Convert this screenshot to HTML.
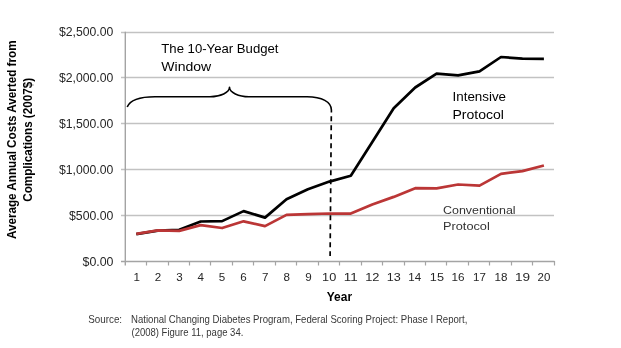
<!DOCTYPE html>
<html><head><meta charset="utf-8"><style>
html,body{margin:0;padding:0;background:#fff;}
body{width:621px;height:348px;overflow:hidden;}
svg{display:block;font-family:"Liberation Sans", sans-serif;will-change:transform;}
</style></head><body>
<svg width="621" height="348" viewBox="0 0 621 348">
<line x1="121" y1="32.6" x2="554" y2="32.6" stroke="#C2C2C2" stroke-width="1.5"/>
<line x1="121" y1="77.6" x2="554" y2="77.6" stroke="#C2C2C2" stroke-width="1.5"/>
<line x1="121" y1="123.6" x2="554" y2="123.6" stroke="#C2C2C2" stroke-width="1.5"/>
<line x1="121" y1="169.6" x2="554" y2="169.6" stroke="#C2C2C2" stroke-width="1.5"/>
<line x1="121" y1="215.6" x2="554" y2="215.6" stroke="#C2C2C2" stroke-width="1.5"/>
<line x1="121" y1="261.5" x2="554.5" y2="261.5" stroke="#A4A4A4" stroke-width="1.4"/>
<line x1="125.3" y1="31.8" x2="125.3" y2="265.6" stroke="#A4A4A4" stroke-width="1.4"/>
<line x1="146.5" y1="261" x2="146.5" y2="265.5" stroke="#A4A4A4" stroke-width="1.2"/>
<line x1="168.5" y1="261" x2="168.5" y2="265.5" stroke="#A4A4A4" stroke-width="1.2"/>
<line x1="189.5" y1="261" x2="189.5" y2="265.5" stroke="#A4A4A4" stroke-width="1.2"/>
<line x1="210.5" y1="261" x2="210.5" y2="265.5" stroke="#A4A4A4" stroke-width="1.2"/>
<line x1="232.5" y1="261" x2="232.5" y2="265.5" stroke="#A4A4A4" stroke-width="1.2"/>
<line x1="253.5" y1="261" x2="253.5" y2="265.5" stroke="#A4A4A4" stroke-width="1.2"/>
<line x1="275.5" y1="261" x2="275.5" y2="265.5" stroke="#A4A4A4" stroke-width="1.2"/>
<line x1="296.5" y1="261" x2="296.5" y2="265.5" stroke="#A4A4A4" stroke-width="1.2"/>
<line x1="318.5" y1="261" x2="318.5" y2="265.5" stroke="#A4A4A4" stroke-width="1.2"/>
<line x1="339.5" y1="261" x2="339.5" y2="265.5" stroke="#A4A4A4" stroke-width="1.2"/>
<line x1="361.5" y1="261" x2="361.5" y2="265.5" stroke="#A4A4A4" stroke-width="1.2"/>
<line x1="382.5" y1="261" x2="382.5" y2="265.5" stroke="#A4A4A4" stroke-width="1.2"/>
<line x1="404.5" y1="261" x2="404.5" y2="265.5" stroke="#A4A4A4" stroke-width="1.2"/>
<line x1="425.5" y1="261" x2="425.5" y2="265.5" stroke="#A4A4A4" stroke-width="1.2"/>
<line x1="446.5" y1="261" x2="446.5" y2="265.5" stroke="#A4A4A4" stroke-width="1.2"/>
<line x1="468.5" y1="261" x2="468.5" y2="265.5" stroke="#A4A4A4" stroke-width="1.2"/>
<line x1="489.5" y1="261" x2="489.5" y2="265.5" stroke="#A4A4A4" stroke-width="1.2"/>
<line x1="511.5" y1="261" x2="511.5" y2="265.5" stroke="#A4A4A4" stroke-width="1.2"/>
<line x1="532.5" y1="261" x2="532.5" y2="265.5" stroke="#A4A4A4" stroke-width="1.2"/>
<line x1="554.5" y1="261" x2="554.5" y2="265.5" stroke="#A4A4A4" stroke-width="1.2"/>
<text id="yl0" x="59.00" y="35.80" font-size="12.20" textLength="54.34" lengthAdjust="spacingAndGlyphs" fill="#262626">$2,500.00</text>
<text id="yl1" x="59.00" y="81.80" font-size="12.20" textLength="54.34" lengthAdjust="spacingAndGlyphs" fill="#262626">$2,000.00</text>
<text id="yl2" x="59.00" y="127.80" font-size="12.20" textLength="54.34" lengthAdjust="spacingAndGlyphs" fill="#262626">$1,500.00</text>
<text id="yl3" x="59.00" y="173.80" font-size="12.20" textLength="54.34" lengthAdjust="spacingAndGlyphs" fill="#262626">$1,000.00</text>
<text id="yl4" x="69.00" y="219.80" font-size="12.20" textLength="44.35" lengthAdjust="spacingAndGlyphs" fill="#262626">$500.00</text>
<text id="yl5" x="82.50" y="265.80" font-size="12.20" textLength="30.99" lengthAdjust="spacingAndGlyphs" fill="#262626">$0.00</text>
<text id="xl1" x="133.42" y="281.00" font-size="11.60" fill="#262626">1</text>
<text id="xl2" x="154.78" y="281.00" font-size="11.60" fill="#262626">2</text>
<text id="xl3" x="176.13" y="281.00" font-size="11.60" fill="#262626">3</text>
<text id="xl4" x="197.47" y="281.00" font-size="11.60" fill="#262626">4</text>
<text id="xl5" x="218.82" y="281.00" font-size="11.60" fill="#262626">5</text>
<text id="xl6" x="240.17" y="281.00" font-size="11.60" fill="#262626">6</text>
<text id="xl7" x="262.02" y="281.00" font-size="11.60" fill="#262626">7</text>
<text id="xl8" x="283.38" y="281.00" font-size="11.60" fill="#262626">8</text>
<text id="xl9" x="305.22" y="281.00" font-size="11.60" fill="#262626">9</text>
<text id="xl10" x="322.12" y="281.00" font-size="11.60" textLength="14.12" lengthAdjust="spacingAndGlyphs" fill="#262626">10</text>
<text id="xl11" x="343.68" y="281.00" font-size="11.60" textLength="13.94" lengthAdjust="spacingAndGlyphs" fill="#262626">11</text>
<text id="xl12" x="365.22" y="281.00" font-size="11.60" textLength="14.32" lengthAdjust="spacingAndGlyphs" fill="#262626">12</text>
<text id="xl13" x="386.78" y="281.00" font-size="11.60" textLength="14.02" lengthAdjust="spacingAndGlyphs" fill="#262626">13</text>
<text id="xl14" x="408.33" y="281.00" font-size="11.60" textLength="12.87" lengthAdjust="spacingAndGlyphs" fill="#262626">14</text>
<text id="xl15" x="429.87" y="281.00" font-size="11.60" textLength="14.10" lengthAdjust="spacingAndGlyphs" fill="#262626">15</text>
<text id="xl16" x="451.42" y="281.00" font-size="11.60" textLength="13.05" lengthAdjust="spacingAndGlyphs" fill="#262626">16</text>
<text id="xl17" x="472.98" y="281.00" font-size="11.60" textLength="12.87" lengthAdjust="spacingAndGlyphs" fill="#262626">17</text>
<text id="xl18" x="494.53" y="281.00" font-size="11.60" textLength="12.96" lengthAdjust="spacingAndGlyphs" fill="#262626">18</text>
<text id="xl19" x="515.07" y="281.00" font-size="11.60" textLength="15.10" lengthAdjust="spacingAndGlyphs" fill="#262626">19</text>
<text id="xl20" x="537.62" y="281.00" font-size="11.60" textLength="12.78" lengthAdjust="spacingAndGlyphs" fill="#262626">20</text>
<text id="year" x="326.80" y="301.10" font-size="12.40" textLength="25.27" lengthAdjust="spacingAndGlyphs" font-weight="bold" fill="#000">Year</text>
<text id="bud1" x="161.30" y="53.00" font-size="13.10" textLength="117.23" lengthAdjust="spacingAndGlyphs" fill="#000">The 10-Year Budget</text>
<text id="bud2" x="161.30" y="71.00" font-size="13.10" textLength="49.87" lengthAdjust="spacingAndGlyphs" fill="#000">Window</text>
<text id="int1" x="452.50" y="101.10" font-size="13.10" textLength="53.57" lengthAdjust="spacingAndGlyphs" fill="#000">Intensive</text>
<text id="int2" x="452.50" y="118.50" font-size="13.10" textLength="51.50" lengthAdjust="spacingAndGlyphs" fill="#000">Protocol</text>
<text id="con1" x="443.00" y="214.30" font-size="11.70" textLength="72.65" lengthAdjust="spacingAndGlyphs" fill="#333333">Conventional</text>
<text id="con2" x="443.00" y="230.20" font-size="11.70" textLength="46.78" lengthAdjust="spacingAndGlyphs" fill="#333333">Protocol</text>
<text id="src0" x="88.20" y="323.00" font-size="10.20" textLength="33.90" lengthAdjust="spacingAndGlyphs" fill="#383838">Source:</text>
<text id="src1" x="131.00" y="323.00" font-size="10.20" textLength="336.41" lengthAdjust="spacingAndGlyphs" fill="#383838">National Changing Diabetes Program, Federal Scoring Project: Phase I Report,</text>
<text id="src2" x="131.50" y="335.90" font-size="10.20" textLength="111.84" lengthAdjust="spacingAndGlyphs" fill="#383838">(2008) Figure 11, page 34.</text>
<text id="yt1" transform="rotate(-90)" x="-239.10" y="15.70" font-size="12.10" textLength="198.62" lengthAdjust="spacingAndGlyphs" font-weight="bold" fill="#000">Average Annual Costs Averted from</text>
<text id="yt2" transform="rotate(-90)" x="-201.80" y="32.10" font-size="12.10" textLength="123.91" lengthAdjust="spacingAndGlyphs" font-weight="bold" fill="#000">Complications (2007$)</text>
<polyline points="136.3,234.1 157.8,230.6 179.2,229.8 200.7,221.5 222.1,221.1 243.6,211.1 265.0,217.6 286.5,199.3 307.9,189.2 329.4,181.6 350.8,175.8 372.3,142.0 393.7,108.2 415.2,87.5 436.6,73.7 458.1,75.4 479.5,71.3 501.0,57.0 522.4,58.7 543.9,58.8" fill="none" stroke="#000" stroke-width="2.7" stroke-linejoin="round"/>
<polyline points="136.3,233.8 157.8,230.3 179.2,230.9 200.7,225.1 222.1,228.0 243.6,221.3 265.0,226.1 286.5,214.9 307.9,214.1 329.4,213.5 350.8,213.5 372.3,204.5 393.7,196.9 415.2,188.2 436.6,188.4 458.1,184.5 479.5,185.6 501.0,173.9 522.4,171.1 543.9,165.5" fill="none" stroke="#BB3636" stroke-width="2.75" stroke-linejoin="round"/>
<path d="M127.2,107 C130,100 140,96.7 155,96.7 L210,96.7 C220.5,96.7 229.5,92.5 229.5,87.3 C229.5,92.5 238.5,96.7 249,96.7 L307,96.7 C322,96.7 331.4,102 331.4,110 L331.4,112.4" fill="none" stroke="#000" stroke-width="1.6" stroke-linejoin="round"/>
<line x1="331.3" y1="116.2" x2="330.1" y2="256" stroke="#000" stroke-width="1.7" stroke-dasharray="5,4"/>
</svg>
</body></html>
